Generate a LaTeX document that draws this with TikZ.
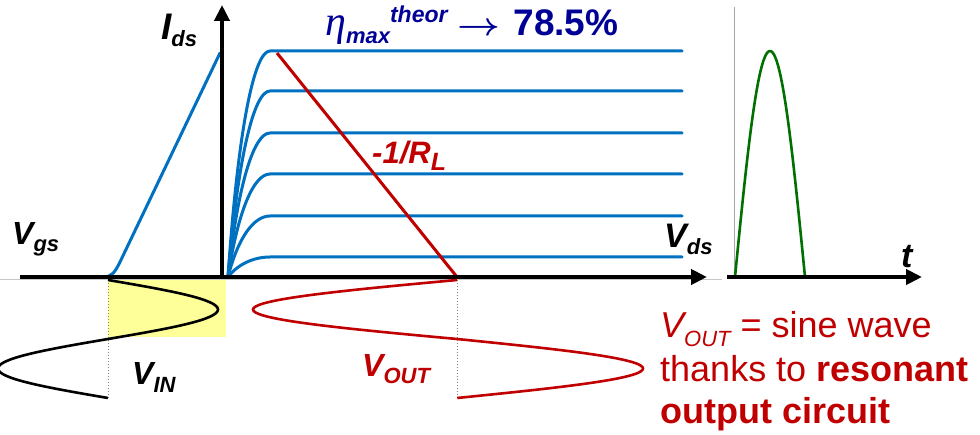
\documentclass[tikz,border=0pt]{standalone}
\usepackage{fontspec}
\setmainfont{Liberation Sans}
\newfontfamily\greekfont{Liberation Serif}
\usetikzlibrary{arrows.meta}
\usepackage{xcolor}
\usepackage{graphicx}

\definecolor{curveblue}{RGB}{0,112,192}
\definecolor{loadred}{RGB}{192,0,0}
\definecolor{etanavy}{RGB}{0,0,150}
\definecolor{pulsegreen}{RGB}{0,112,0}
\definecolor{paleyellow}{RGB}{255,255,153}

% subscript / superscript text
\newcommand\lowtxt[2][7pt]{\raisebox{-#1}{\fontsize{22}{22}\selectfont #2}}
\newcommand\hightxt[2][13pt]{\raisebox{#1}{\fontsize{23}{23}\selectfont #2}}

\begin{document}
\begin{tikzpicture}[
        x=1pt, y=-1pt,
        % Estilos das linhas
        axis/.style={line width=4pt, -{Triangle[length=16pt, width=15pt]}},
        curve/.style={draw=curveblue, line width=3pt, line cap=round, line join=round},
        loadline/.style={draw=loadred, line width=3pt},
        wave/.style={line width=2.6pt, smooth},
        guide/.style={draw=gray, dotted, line width=1pt},
        % Estilo dos rótulos
        lbl/.style={inner sep=0pt, anchor=base west, font=\fontsize{32}{32}\selectfont\bfseries\itshape},
        note/.style={inner sep=0pt, anchor=base west, text=loadred, font=\fontsize{36}{42}\selectfont}
    ]
    \useasboundingbox (0,0) rectangle (980,435);

    % Input drive region
    \fill[paleyellow] (108,280) rectangle (226,337);
    \draw[guide] (108,280) -- (108,398);
    \draw[guide] (457,280) -- (457,398);
    \draw[draw=gray!45, line width=1pt] (0,279.5) -- (722,279.5);

    % Transfer curve
    \draw[curve] (103,277) .. controls (112,277) and (115,272) .. (120,262) -- (220,53);

    % Output characteristics
    \foreach \lev in {51,91,133,174,216,257}
        \draw[curve] (228,277) .. controls (238,{\lev+0.35*(277-\lev)}) and (254,\lev) .. (270,\lev) -- (682,\lev);

    % Load line
    \draw[loadline] (277,53) -- (457,277);

    % Axes
    \draw[axis] (20,277) -- (707,277);
    \draw[axis] (222,277) -- (222,5);

    % Input and output waves
    \draw[wave, black] plot[domain=0:1, samples=81, variable=\t] ({108+110*sin(360*\t)},{280+118*\t});
    \draw[wave, loadred] plot[domain=0:1, samples=81, variable=\t] ({457-(\t<0.5 ? 204 : 186)*sin(360*\t)},{280+118*\t});

    % Current pulse
    \draw[draw=gray!70, line width=0.8pt] (734,7) -- (734,277);
    \draw[guide] (735,276) -- (815,276);
    \draw[wave, pulsegreen] plot[domain=0:1, samples=60, variable=\t] ({735+70*\t},{277-226*sin(180*\t)});
    \draw[axis] (727,277) -- (922,277);

    % Rótulos
    \node[lbl, font=\fontsize{37}{37}\selectfont\bfseries\itshape] (ids) at (161,40) {I\lowtxt{ds}};
    \node[lbl] (vgs) at (12,245) {V\lowtxt{gs}};
    \node[lbl, font=\fontsize{34}{34}\selectfont\bfseries\itshape] (vds) at (664,248) {V\lowtxt{ds}};
    \node[lbl, font=\fontsize{34}{34}\selectfont\bfseries\itshape] (tlabel) at (901,268) {t};
    \node[lbl] (vin) at (132,385) {V\lowtxt{IN}};
    \node[lbl, text=loadred] (vout) at (362,377) {V\lowtxt{OUT}};
    \node[lbl, text=loadred, font=\fontsize{31}{31}\selectfont\bfseries\itshape] (slope) at (372,164) {-1/R\lowtxt[7pt]{\fontsize{25}{25}\selectfont L}};
    \node[inner sep=0pt, anchor=base west, text=etanavy, font=\fontsize{36}{36}\selectfont] (eta) at (325,36)
        {{\greekfont\itshape\fontsize{42}{42}\selectfont η}\lowtxt[8pt]{\bfseries\itshape max}\hightxt{\bfseries\itshape theor}\hspace{10pt}\scalebox{1.5}[1.3]{\boldmath$\rightarrow$}\hspace{13pt}{\fontsize{37}{37}\selectfont\bfseries 78.5\%}};

    % Nota
    \node[note] (note1) at (660,338) {{\itshape V}\lowtxt[9pt]{\itshape OUT} = sine wave};
    \node[note] (note2) at (660,382) {thanks to \textbf{resonant}};
    \node[note] (note3) at (660,424) {\textbf{output circuit}};
\end{tikzpicture}
\end{document}
